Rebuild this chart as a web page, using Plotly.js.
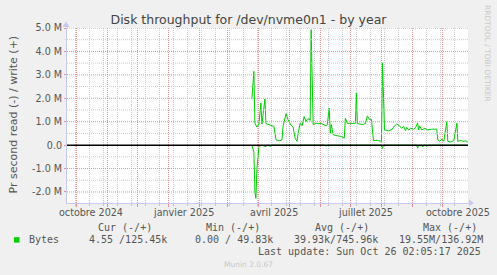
<!DOCTYPE html>
<html><head><meta charset="utf-8">
<script src="https://cdn.plot.ly/plotly-3.0.1.min.js"></script>
<style>html,body{margin:0;padding:0;background:#f0f0f0;}#chart{width:497px;height:275px;}</style>
</head><body><div id="chart"></div>
<script>
// ---- data (values in bytes/s) ----
const writeDates = ["2025-03-25","2025-03-27","2025-03-28","2025-03-30","2025-04-01","2025-04-03","2025-04-04","2025-04-07","2025-04-08","2025-04-13","2025-04-16","2025-04-18","2025-04-21","2025-04-24","2025-04-25","2025-04-28","2025-04-30","2025-05-03","2025-05-05","2025-05-07","2025-05-09","2025-05-10","2025-05-12","2025-05-14","2025-05-16","2025-05-18","2025-05-19","2025-05-21","2025-05-22","2025-05-23","2025-05-25","2025-05-28","2025-06-02","2025-06-07","2025-06-08","2025-06-10","2025-06-11","2025-06-12","2025-06-14","2025-06-18","2025-06-22","2025-06-25","2025-06-26","2025-06-28","2025-07-03","2025-07-06","2025-07-07","2025-07-08","2025-07-13","2025-07-16","2025-07-18","2025-07-20","2025-07-22","2025-07-24","2025-07-28","2025-08-01","2025-08-02","2025-08-04","2025-08-08","2025-08-11","2025-08-14","2025-08-16","2025-08-19","2025-08-21","2025-08-23","2025-08-25","2025-08-26","2025-08-28","2025-08-30","2025-09-02","2025-09-04","2025-09-06","2025-09-07","2025-09-08","2025-09-10","2025-09-13","2025-09-16","2025-09-20","2025-09-25","2025-09-26","2025-09-28","2025-09-30","2025-10-02","2025-10-05","2025-10-06","2025-10-09","2025-10-12","2025-10-15","2025-10-16","2025-10-19","2025-10-21","2025-10-24","2025-10-26"];
const writeVals = [1970000,3150000,940000,770000,900000,1800000,900000,1970000,920000,830000,800000,230000,180000,230000,800000,1340000,1080000,850000,780000,300000,160000,500000,930000,830000,1220000,1000000,1100000,1130000,1050000,4930000,880000,930000,920000,830000,870000,1580000,510000,880000,440000,400000,370000,300000,1150000,930000,920000,930000,2220000,920000,880000,920000,1250000,1100000,1100000,200000,200000,160000,3500000,650000,620000,650000,820000,900000,820000,720000,800000,620000,760000,650000,720000,680000,760000,940000,650000,820000,650000,720000,650000,680000,680000,230000,160000,260000,160000,1000000,160000,130000,200000,940000,160000,200000,160000,180000,125450];
const readDates = ["2025-03-25","2025-03-27","2025-03-28","2025-03-29","2025-03-30","2025-04-01","2025-04-03","2025-04-08","2025-04-09","2025-04-13","2025-04-14","2025-05-09","2025-05-10","2025-05-11","2025-06-06","2025-06-07","2025-06-08","2025-08-01","2025-08-02","2025-08-03","2025-09-05","2025-09-06","2025-09-07","2025-09-10","2025-09-11","2025-09-12","2025-09-14","2025-09-15","2025-09-16","2025-10-26"];
const readVals = [0,-300000,-2000000,-2270000,-1000000,-100000,0,-60000,0,-50000,0,0,-50000,0,0,-50000,0,0,-140000,0,0,-130000,0,0,-80000,0,0,-60000,0,-5];
const monthTick0 = "2024-10-01";
const minorTick0 = "2024-09-30";
const xLabelDates = ["2024-10-16","2025-01-16","2025-04-16","2025-07-16","2025-10-16"];
const xLabelTexts = ["octobre 2024","janvier 2025","avril 2025","juillet 2025","octobre 2025"];
const yTickVals = [-2000000,-1000000,0,1000000,2000000,3000000,4000000,5000000];
const yTickTexts = ["-2.0 M","-1.0 M","0.0","1.0 M","2.0 M","3.0 M","4.0 M","5.0 M"];
const yMinorVals = [-1500000,-500000,500000,1500000,2500000,3500000,4500000];
const xRange = ["2024-09-22 00:00","2025-10-26 02:05"];
const yRange = [-2470000, 5000000];
const legendHeaders = ["Cur (-/+)","Min (-/+)","Avg (-/+)","Max (-/+)"];
const legendValues = ["4.55 /125.45k","0.00 / 49.83k","39.93k/745.96k","19.55M/136.92M"];
const seriesName = "Bytes";

// ---- layout geometry ----
const L=67,R=468,T=28,B=203,W=497,H=275;
const pw=R-L, ph=B-T;
const px = x => (x-L)/pw;
const py = y => (B-y)/ph;
const green = "#00cc00";
const txt = "#555555";
const mono = "DejaVu Sans Mono";
const sans = "DejaVu Sans";
const gridRed = "#e49494", gridGray = "#cccccc";

const traces = [
  {x: writeDates, y: writeVals, type:"scatter", mode:"lines", line:{color:green,width:1}, showlegend:false, hoverinfo:"skip"},
  {x: readDates, y: readVals, type:"scatter", mode:"lines", line:{color:green,width:1}, showlegend:false, hoverinfo:"skip"}
];

const hdrX = [124.7, 233.3, 341.7, 449.7];
const valX = [128, 233.5, 335.5, 440.5];
const annotations = [];
xLabelDates.forEach((d,i)=>annotations.push({text:xLabelTexts[i], x:d, xref:"x", y:py(212.3), yref:"paper", showarrow:false, xanchor:"center", yanchor:"middle", font:{family:sans,size:9.6,color:txt}}));
legendHeaders.forEach((t,i)=>annotations.push({text:t, x:px(hdrX[i]), y:py(227.5), xref:"paper", yref:"paper", showarrow:false, xanchor:"center", yanchor:"middle", font:{family:mono,size:10,color:txt}}));
legendValues.forEach((t,i)=>annotations.push({text:t, x:px(valX[i]), y:py(239.7), xref:"paper", yref:"paper", showarrow:false, xanchor:"center", yanchor:"middle", font:{family:mono,size:10,color:txt}}));
annotations.push({text:seriesName, x:px(26.5), y:py(239.7), xref:"paper", yref:"paper", showarrow:false, xanchor:"left", yanchor:"middle", font:{family:mono,size:10,color:txt}});
annotations.push({text:"Last update: Sun Oct 26 02:05:17 2025", x:px(483), y:py(251.7), xref:"paper", yref:"paper", showarrow:false, xanchor:"right", yanchor:"middle", font:{family:mono,size:10,color:txt}});
annotations.push({text:"Munin 2.0.67", x:px(248), y:py(264), xref:"paper", yref:"paper", showarrow:false, xanchor:"center", yanchor:"middle", font:{family:sans,size:7.5,color:"#c8c8c8"}});
annotations.push({text:"RRDTOOL / TOBI OETIKER", x:px(488), y:py(53), xref:"paper", yref:"paper", showarrow:false, textangle:90, xanchor:"center", yanchor:"middle", font:{family:sans,size:7.5,color:"#c8c8c8"}});
annotations.push({text:"Pr second read (-) / write (+)", x:px(12.5), y:py(115), xref:"paper", yref:"paper", showarrow:false, textangle:-90, xanchor:"center", yanchor:"middle", font:{family:sans,size:11,color:txt}});

const shapes = [];
// horizontal grid lines (styling only), drawn in the top layer so they are not hidden
yMinorVals.forEach(v=>shapes.push({type:"line", xref:"paper", yref:"y", x0:0, x1:1, y0:v, y1:v, line:{color:gridGray, width:1, dash:"1px,1px"}, layer:"above"}));
yTickVals.filter(v=>v!==0).forEach(v=>shapes.push({type:"line", xref:"paper", yref:"y", x0:0, x1:1, y0:v, y1:v, line:{color:gridRed, width:1, dash:"1px,1px"}, layer:"above"}));
shapes.push(
  {type:"line", xref:"paper", yref:"y", x0:0, x1:1, y0:0, y1:0, line:{color:"#000000", width:1.5}, layer:"above"},
  {type:"rect", xref:"paper", yref:"paper", x0:px(14), x1:px(19.5), y0:py(237.2), y1:py(242.6), fillcolor:green, line:{width:0}, layer:"above"},
  {type:"path", xref:"paper", yref:"paper", path:`M ${px(474)},${py(203)} L ${px(469)},${py(199.5)} L ${px(469)},${py(206.5)} Z`, fillcolor:"#c8c8f4", line:{width:0}, layer:"above"},
  {type:"path", xref:"paper", yref:"paper", path:`M ${px(66)},${py(21.5)} L ${px(62.5)},${py(27)} L ${px(69.5)},${py(27)} Z`, fillcolor:"#c8c8f4", line:{width:0}, layer:"above"},
  {type:"line", xref:"paper", yref:"paper", x0:1, x1:px(470), y0:0, y1:0, line:{color:"#c8c8f4", width:1}, layer:"above"},
  {type:"line", xref:"paper", yref:"paper", x0:0, x1:0, y0:1, y1:py(25), line:{color:"#c8c8f4", width:1}, layer:"above"}
);

const layout = {
  width:W, height:H,
  paper_bgcolor:"#f0f0f0", plot_bgcolor:"#ffffff",
  margin:{l:L, r:W-R, t:T, b:H-B, pad:0},
  showlegend:false,
  title:{text:"Disk throughput for /dev/nvme0n1 - by year", x:0.5, xref:"container", xanchor:"center", y:1-19.3/H, yref:"container", yanchor:"middle", font:{family:sans, size:12.5, color:"#444444"}},
  xaxis:{type:"date", range:xRange, tickmode:"linear", tick0:monthTick0, dtick:"M1", showticklabels:false,
    ticks:"outside", ticklen:3, tickcolor:"#e49090", tickwidth:1,
    showgrid:true, gridcolor:gridRed, griddash:"1px,1px", gridwidth:1,
    minor:{tick0:minorTick0, dtick:14*86400000, showgrid:true, gridcolor:gridGray, griddash:"1px,1px", gridwidth:1, ticks:"outside", ticklen:2, tickcolor:"#c4c4c4"},
    showline:true, linecolor:"#c8c8f4", linewidth:1, zeroline:false, fixedrange:true},
  yaxis:{range:yRange, tickmode:"array", tickvals:yTickVals, ticktext:yTickTexts, tickfont:{family:sans, size:9.6, color:txt},
    ticks:"outside", ticklen:2, tickcolor:"#e49090",
    showgrid:false,
    showline:true, linecolor:"#c8c8f4", linewidth:1, zeroline:false, fixedrange:true},
  annotations:annotations,
  shapes:shapes
};
Plotly.newPlot("chart", traces, layout, {staticPlot:true, displayModeBar:false});
</script>
</body></html>
